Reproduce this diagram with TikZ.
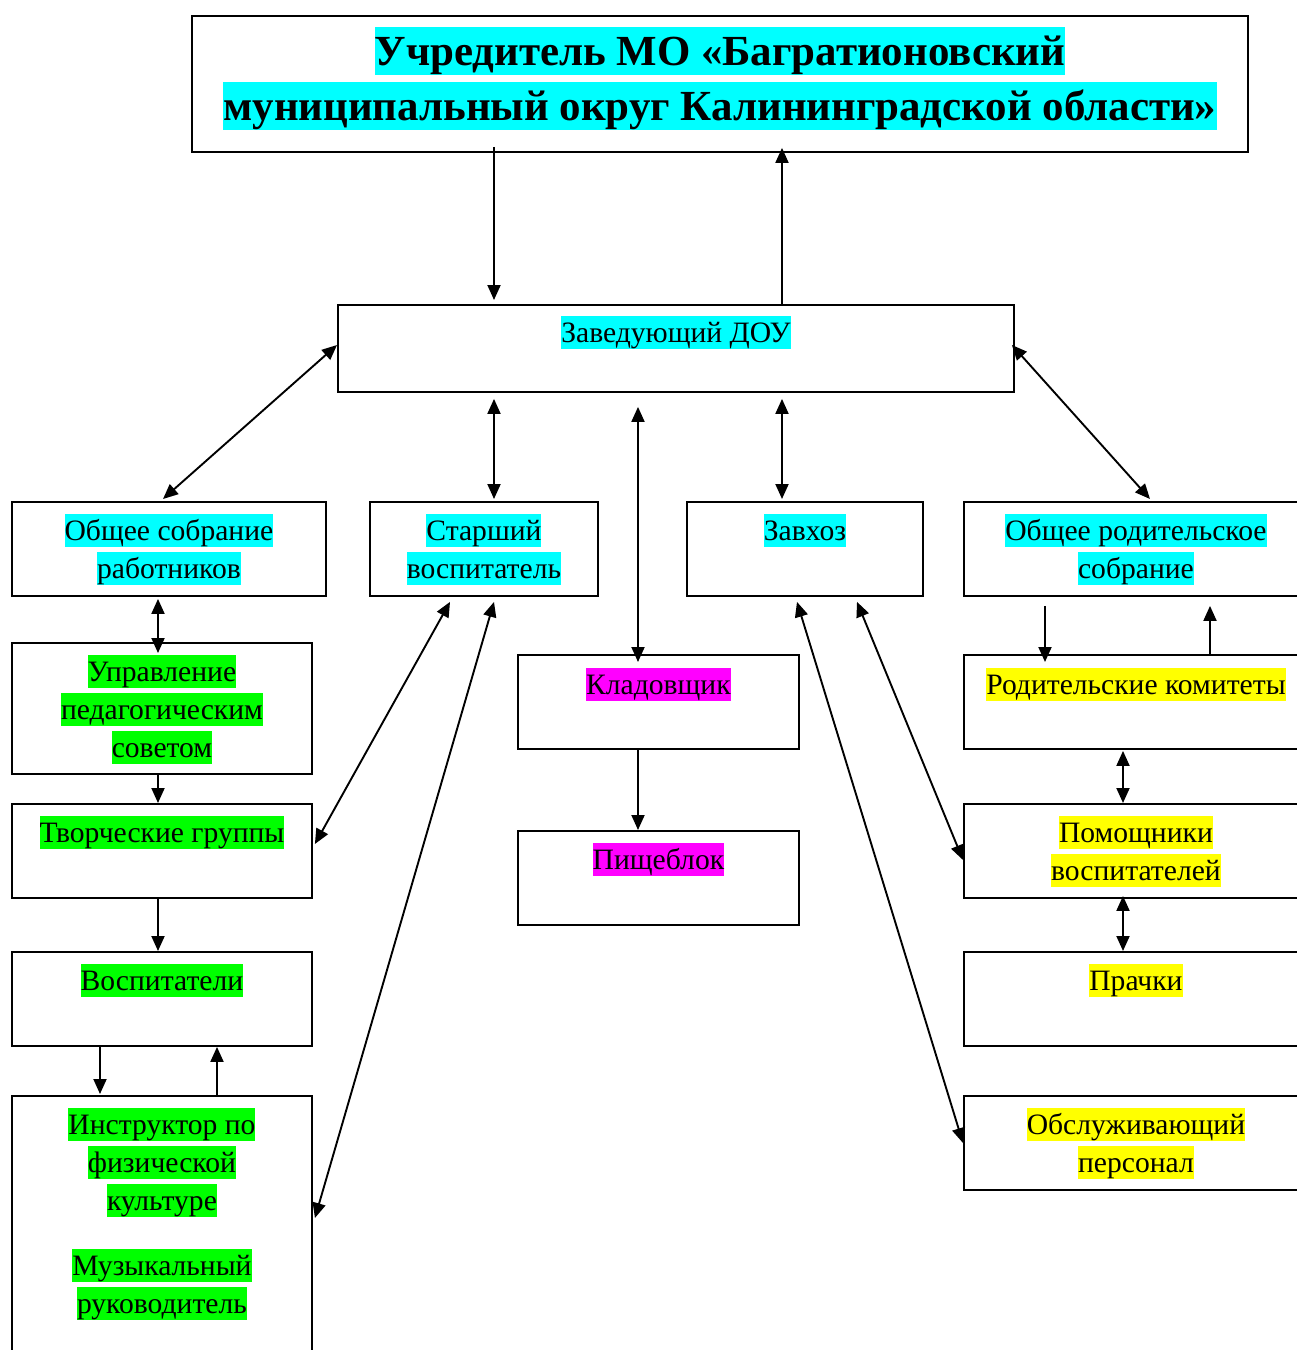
\documentclass[tikz,border=0pt]{standalone}
\usepackage{fontspec}
\setmainfont{Liberation Serif}
\usetikzlibrary{arrows.meta,calc}
\definecolor{cy}{RGB}{0,255,255}
\definecolor{gr}{RGB}{0,255,0}
\definecolor{mg}{RGB}{255,0,255}
\definecolor{ye}{RGB}{255,255,0}
\newcommand\hlc[2]{{\setlength\fboxsep{0pt}\colorbox{#1}{\rule[-0.216em]{0pt}{1.107em}#2}}}
\tikzset{
  box/.style={draw, line width=1.9pt, anchor=north west, inner sep=0pt},
  txt/.style={anchor=north, inner sep=0pt, align=center, font=\fontsize{29.6}{38}\selectfont},
  ttl/.style={anchor=north, inner sep=0pt, align=center, font=\fontsize{42.9}{55}\selectfont\bfseries},
  tip/.tip={Triangle[length=15pt,width=13pt]},
  arr/.style={line width=1.9pt, -tip},
  darr/.style={line width=1.9pt, tip-tip},
}
\begin{document}
\begin{tikzpicture}[x=1pt,y=-1pt]
\useasboundingbox (0,0) rectangle (1297,1350);
\clip (0,0) rectangle (1297,1350);
\fill[white] (0,0) rectangle (1297,1350);
% boxes
\node[box, minimum width=1056pt, minimum height=136pt] (title) at (191,15) {};
\node[box, minimum width=676pt, minimum height=87pt] (zav) at (337,304) {};
\node[box, minimum width=314pt, minimum height=94pt] (osr) at (11,501) {};
\node[box, minimum width=228pt, minimum height=94pt] (star) at (369,501) {};
\node[box, minimum width=236pt, minimum height=94pt] (zavh) at (686,501) {};
\node[box, minimum width=344pt, minimum height=94pt] (orod) at (963,501) {};
\node[box, minimum width=300pt, minimum height=131pt] (upr) at (11,642) {};
\node[box, minimum width=300pt, minimum height=94pt] (tvor) at (11,803) {};
\node[box, minimum width=300pt, minimum height=94pt] (vosp) at (11,951) {};
\node[box, minimum width=300pt, minimum height=300pt] (instr) at (11,1095) {};
\node[box, minimum width=281pt, minimum height=94pt] (klad) at (517,654) {};
\node[box, minimum width=281pt, minimum height=94pt] (pisch) at (517,830) {};
\node[box, minimum width=344pt, minimum height=94pt] (rkom) at (963,654) {};
\node[box, minimum width=344pt, minimum height=94pt] (pom) at (963,803) {};
\node[box, minimum width=344pt, minimum height=94pt] (prach) at (963,951) {};
\node[box, minimum width=344pt, minimum height=94pt] (obsl) at (963,1095) {};
% texts
\node[ttl] (titlet) at ($(title.north)+(0,12)$) {\hlc{cy}{Учредитель МО «Багратионовский}\\\hlc{cy}{муниципальный округ Калининградской области»}};
\node[txt] (zavt) at ($(zav.north)+(0,12)$) {\hlc{cy}{Заведующий ДОУ}};
\node[txt] (osrt) at ($(osr.north)+(0,13)$) {\hlc{cy}{Общее собрание}\\\hlc{cy}{работников}};
\node[txt] (start) at ($(star.north)+(0,13)$) {\hlc{cy}{Старший}\\\hlc{cy}{воспитатель}};
\node[txt] (zavht) at ($(zavh.north)+(0,13)$) {\hlc{cy}{Завхоз}};
\node[txt] (orodt) at ($(orod.north)+(0,13)$) {\hlc{cy}{Общее родительское}\\\hlc{cy}{собрание}};
\node[txt] (uprt) at ($(upr.north)+(0,13)$) {\hlc{gr}{Управление}\\\hlc{gr}{педагогическим}\\\hlc{gr}{советом}};
\node[txt] (tvort) at ($(tvor.north)+(0,13)$) {\hlc{gr}{Творческие группы}};
\node[txt] (vospt) at ($(vosp.north)+(0,13)$) {\hlc{gr}{Воспитатели}};
\node[txt] (instrt) at ($(instr.north)+(0,13)$) {\hlc{gr}{Инструктор по}\\\hlc{gr}{физической}\\\hlc{gr}{культуре}\\[27pt]\hlc{gr}{Музыкальный}\\\hlc{gr}{руководитель}};
\node[txt] (kladt) at ($(klad.north)+(0,14)$) {\hlc{mg}{Кладовщик}};
\node[txt] (pischt) at ($(pisch.north)+(0,13)$) {\hlc{mg}{Пищеблок}};
\node[txt] (rkomt) at ($(rkom.north)+(0,14)$) {\hlc{ye}{Родительские комитеты}};
\node[txt] (pomt) at ($(pom.north)+(0,13)$) {\hlc{ye}{Помощники}\\\hlc{ye}{воспитателей}};
\node[txt] (pracht) at ($(prach.north)+(0,13)$) {\hlc{ye}{Прачки}};
\node[txt] (obslt) at ($(obsl.north)+(0,13)$) {\hlc{ye}{Обслуживающий}\\\hlc{ye}{персонал}};
% connectors
\draw[arr] ($(title.south west)+(303,-6)$) -- ($(zav.north west)+(157,-4)$);
\draw[arr] ($(zav.north west)+(445,0)$) -- ($(title.south west)+(591,-5)$);
\draw[darr] ($(zav.north west)+(0,41)$) -- ($(osr.north west)+(152,-2)$);
\draw[darr] ($(zav.north east)+(-3,41)$) -- ($(orod.north west)+(187,-2)$);
\draw[darr] ($(zav.south west)+(157,6)$) -- ($(star.north west)+(125,-2)$);
\draw[darr] ($(zav.south west)+(301,14)$) -- ($(klad.north west)+(121,8)$);
\draw[darr] ($(zav.south west)+(445,6)$) -- ($(zavh.north west)+(96,-2)$);
\draw[darr] ($(osr.south west)+(147,2)$) -- ($(upr.north west)+(147,11)$);
\draw[arr] ($(upr.south west)+(147,0)$) -- ($(tvor.north west)+(147,0)$);
\draw[darr] ($(star.south west)+(81,5)$) -- ($(tvor.north east)+(2,41)$);
\draw[darr] ($(star.south west)+(125,5)$) -- ($(instr.north east)+(2,123)$);
\draw[arr] ($(klad.south west)+(121,0)$) -- ($(pisch.north west)+(121,0)$);
\draw[arr] ($(orod.south west)+(82,9)$) -- ($(rkom.north west)+(82,8)$);
\draw[arr] ($(rkom.north west)+(247,0)$) -- ($(orod.south west)+(247,9)$);
\draw[darr] ($(rkom.south west)+(160,1)$) -- ($(pom.north west)+(160,0)$);
\draw[darr] ($(pom.south west)+(160,-3)$) -- ($(prach.north west)+(160,0)$);
\draw[darr] ($(zavh.south west)+(171,5)$) -- ($(pom.north west)+(0,57)$);
\draw[darr] ($(zavh.south west)+(111,5)$) -- ($(obsl.north west)+(0,48)$);
\draw[arr] ($(tvor.south west)+(147,0)$) -- ($(vosp.north west)+(147,0)$);
\draw[arr] ($(vosp.south west)+(89,0)$) -- ($(instr.north west)+(89,-1)$);
\draw[arr] ($(instr.north west)+(206,0)$) -- ($(vosp.south west)+(206,0)$);
\end{tikzpicture}
\end{document}
